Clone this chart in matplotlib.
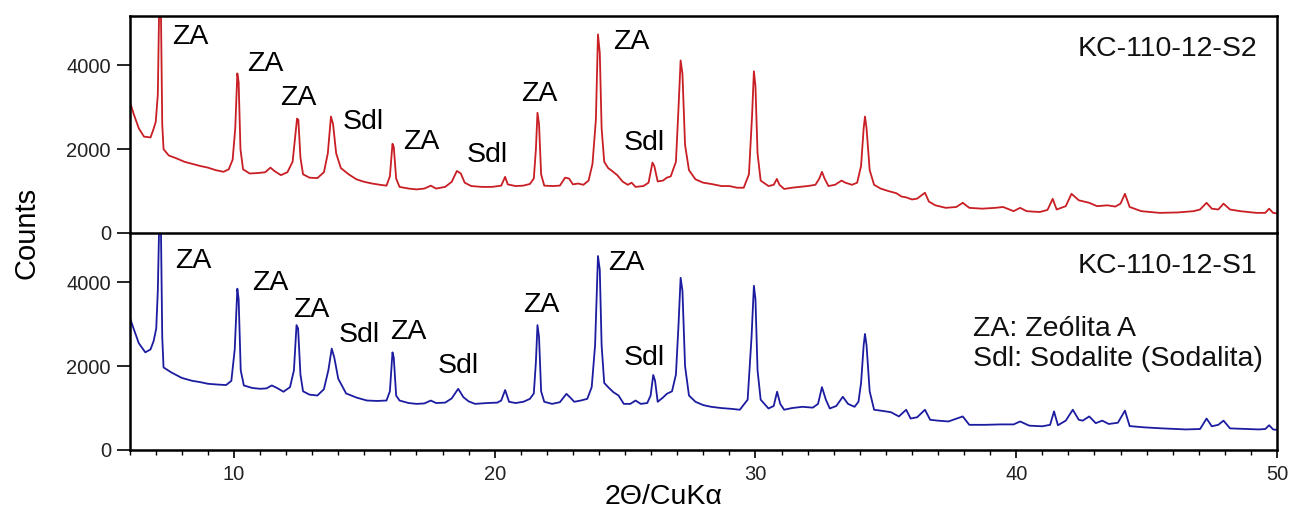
import matplotlib
matplotlib.use("Agg")
import matplotlib.pyplot as plt
from matplotlib.ticker import MultipleLocator

plt.rcParams['font.family'] = ['Liberation Sans', 'DejaVu Sans']

# Difractograma KC-110-12-S2 (painel superior)
two_theta_s2 = [
    6.00, 6.15, 6.35, 6.55, 6.80, 6.90, 7.00, 7.08, 7.13, 7.20, 7.25, 7.30, 7.50, 7.80,
    8.10, 8.40, 8.70, 9.00, 9.30, 9.60, 9.80, 9.95, 10.05, 10.13, 10.18, 10.25, 10.35,
    10.60, 10.90, 11.20, 11.40, 11.55, 11.80, 12.05, 12.25, 12.35, 12.42, 12.47, 12.55,
    12.65, 12.90, 13.20, 13.45, 13.60, 13.72, 13.80, 13.92, 14.10, 14.40, 14.70, 15.00,
    15.30, 15.60, 15.85, 15.98, 16.08, 16.13, 16.22, 16.35, 16.70, 17.00, 17.30, 17.55,
    17.75, 18.10, 18.35, 18.55, 18.70, 18.85, 19.10, 19.50, 19.90, 20.25, 20.40, 20.50,
    20.80, 21.10, 21.35, 21.50, 21.58, 21.64, 21.70, 21.78, 21.90, 22.20, 22.50, 22.70,
    22.85, 23.00, 23.20, 23.40, 23.60, 23.75, 23.88, 23.96, 24.03, 24.10, 24.20, 24.35,
    24.50, 24.70, 24.90, 25.10, 25.25, 25.40, 25.70, 25.90, 26.05, 26.12, 26.25, 26.45,
    26.60, 26.75, 26.95, 27.05, 27.13, 27.20, 27.30, 27.45, 27.70, 28.00, 28.30, 28.70,
    29.00, 29.30, 29.55, 29.75, 29.87, 29.94, 30.00, 30.08, 30.20, 30.50, 30.70, 30.82,
    30.92, 31.10, 31.40, 31.70, 32.00, 32.30, 32.45, 32.55, 32.65, 32.80, 33.05, 33.30,
    33.45, 33.70, 33.90, 34.05, 34.15, 34.20, 34.26, 34.38, 34.55, 34.80, 35.10, 35.40,
    35.60, 35.78, 36.00, 36.20, 36.50, 36.65, 36.90, 37.30, 37.70, 37.95, 38.20, 38.70,
    39.20, 39.50, 39.90, 40.15, 40.40, 40.90, 41.20, 41.40, 41.55, 41.90, 42.12, 42.40,
    42.80, 43.10, 43.50, 43.80, 44.00, 44.17, 44.35, 44.80, 45.50, 46.20, 46.80, 47.05,
    47.30, 47.50, 47.75, 47.95, 48.20, 48.60, 49.20, 49.55, 49.70, 49.85, 50.00,
]
counts_s2 = [
    3150, 2850, 2500, 2300, 2280, 2450, 2650, 3300, 5300, 5300, 2600, 2000, 1850, 1780,
    1700, 1650, 1600, 1560, 1500, 1460, 1520, 1750, 2500, 3810, 3600, 2000, 1520,
    1420, 1430, 1450, 1560, 1480, 1380, 1450, 1700, 2300, 2730, 2700, 1800,
    1400, 1320, 1310, 1450, 1900, 2780, 2600, 1900, 1550, 1400, 1280, 1220,
    1180, 1150, 1130, 1350, 2130, 2050, 1300, 1100, 1060, 1040, 1060, 1130,
    1060, 1100, 1220, 1480, 1420, 1200, 1120, 1100, 1100, 1130, 1340, 1160,
    1120, 1130, 1170, 1300, 2000, 2870, 2600, 1400, 1130, 1120, 1130, 1320,
    1300, 1160, 1180, 1150, 1250, 1650, 2700, 4740, 4300, 2500, 1700, 1550,
    1480, 1380, 1230, 1150, 1200, 1100, 1120, 1200, 1680, 1600, 1230, 1250,
    1320, 1350, 1700, 3000, 4120, 3800, 2100, 1500, 1280, 1200, 1170, 1120,
    1120, 1080, 1080, 1400, 2800, 3860, 3500, 1900, 1250, 1120, 1150, 1290,
    1150, 1050, 1080, 1100, 1120, 1150, 1300, 1460, 1300, 1120, 1150, 1250,
    1200, 1150, 1200, 1600, 2500, 2780, 2500, 1500, 1150, 1060, 1000, 950,
    870, 850, 800, 820, 960, 750, 660, 600, 620, 720, 600, 580,
    600, 620, 520, 600, 520, 500, 550, 815, 560, 640, 935, 780,
    720, 640, 660, 630, 700, 935, 620, 520, 480, 490, 520, 560,
    720, 580, 560, 700, 560, 520, 480, 480, 580, 480, 470,
]

# Difractograma KC-110-12-S1 (painel inferior)
two_theta_s1 = [
    6.00, 6.15, 6.35, 6.60, 6.80, 6.92, 7.02, 7.08, 7.13, 7.20, 7.25, 7.30, 7.60, 8.00,
    8.40, 8.70, 9.00, 9.40, 9.70, 9.90, 10.03, 10.13, 10.18, 10.26, 10.38, 10.70, 11.00,
    11.25, 11.45, 11.65, 11.90, 12.15, 12.30, 12.40, 12.46, 12.55, 12.65, 12.90, 13.20,
    13.45, 13.62, 13.75, 13.85, 14.00, 14.30, 14.70, 15.10, 15.50, 15.85, 15.98, 16.08,
    16.13, 16.22, 16.35, 16.70, 17.00, 17.30, 17.55, 17.75, 18.10, 18.35, 18.60, 18.80,
    19.00, 19.25, 19.70, 20.10, 20.25, 20.40, 20.55, 20.80, 21.10, 21.35, 21.50, 21.58,
    21.64, 21.70, 21.78, 21.90, 22.20, 22.50, 22.75, 22.90, 23.05, 23.30, 23.55, 23.72,
    23.85, 23.96, 24.03, 24.10, 24.20, 24.35, 24.55, 24.75, 24.95, 25.20, 25.40, 25.60,
    25.85, 25.98, 26.08, 26.15, 26.25, 26.45, 26.60, 26.80, 26.95, 27.05, 27.13, 27.20,
    27.30, 27.45, 27.70, 28.00, 28.30, 28.70, 29.10, 29.40, 29.70, 29.85, 29.94, 30.00,
    30.08, 30.20, 30.50, 30.70, 30.83, 30.95, 31.10, 31.40, 31.80, 32.20, 32.40, 32.55,
    32.70, 32.85, 33.10, 33.35, 33.55, 33.80, 33.95, 34.05, 34.15, 34.20, 34.26, 34.38,
    34.55, 34.90, 35.20, 35.50, 35.78, 35.95, 36.20, 36.50, 36.70, 37.00, 37.40, 37.95,
    38.20, 38.80, 39.40, 39.90, 40.15, 40.50, 41.00, 41.30, 41.45, 41.60, 41.90, 42.17,
    42.40, 42.55, 42.80, 43.05, 43.30, 43.55, 43.90, 44.17, 44.35, 44.90, 45.60, 46.50,
    47.05, 47.30, 47.50, 47.75, 47.95, 48.20, 48.80, 49.30, 49.55, 49.70, 49.85, 50.00,
]
counts_s1 = [
    3170, 2900, 2550, 2330, 2400, 2600, 2900, 3800, 5300, 5300, 2700, 1970, 1850, 1720,
    1650, 1620, 1580, 1560, 1550, 1650, 2400, 3850, 3600, 1900, 1540, 1480, 1460,
    1470, 1540, 1480, 1390, 1500, 1900, 2980, 2900, 1800, 1400, 1320, 1300,
    1450, 1900, 2420, 2200, 1700, 1350, 1250, 1180, 1170, 1180, 1400, 2330,
    2200, 1300, 1180, 1120, 1100, 1110, 1180, 1120, 1130, 1230, 1460, 1260,
    1160, 1100, 1120, 1130, 1180, 1430, 1150, 1120, 1150, 1220, 1350, 2100,
    2980, 2700, 1400, 1150, 1100, 1140, 1340, 1250, 1150, 1180, 1220, 1500,
    2500, 4630, 4300, 2500, 1600, 1500, 1380, 1300, 1100, 1100, 1180, 1100,
    1120, 1300, 1790, 1650, 1150, 1250, 1340, 1400, 1800, 3000, 4110, 3800,
    2000, 1300, 1150, 1070, 1030, 1000, 980, 960, 1200, 2700, 3920, 3600,
    1900, 1200, 990, 1050, 1390, 1100, 960, 1000, 1030, 1010, 1100, 1500,
    1200, 990, 1050, 1270, 1100, 1030, 1150, 1600, 2500, 2770, 2500, 1400,
    960, 930, 900, 800, 960, 750, 780, 960, 720, 700, 680, 800,
    600, 600, 610, 610, 680, 580, 565, 600, 920, 590, 700, 960,
    720, 700, 800, 640, 700, 620, 650, 940, 570, 540, 515, 490,
    500, 750, 565, 600, 700, 515, 500, 490, 500, 590, 490, 480,
]

# Identificação das fases: (texto, 2theta, contagens)
labels_s2 = [
    ("ZA", 7.62, 4675), ("ZA", 10.50, 4025), ("ZA", 11.76, 3230),
    ("Sdl", 14.18, 2650), ("ZA", 16.49, 2170), ("Sdl", 18.94, 1855),
    ("ZA", 21.00, 3325), ("ZA", 24.53, 4555), ("Sdl", 24.96, 2157),
]
labels_s1 = [
    ("ZA", 7.74, 4520), ("ZA", 10.69, 3990), ("ZA", 12.26, 3330),
    ("Sdl", 14.00, 2740), ("ZA", 15.99, 2810), ("Sdl", 17.82, 2000),
    ("ZA", 21.08, 3450), ("ZA", 24.34, 4460), ("Sdl", 24.96, 2190),
]

fig, (ax_top, ax_bot) = plt.subplots(2, 1, sharex=True, figsize=(12.9, 5.09), dpi=100)
fig.subplots_adjust(left=0.1005, right=0.9899, top=0.9686, bottom=0.116, hspace=0)

ax_top.plot(two_theta_s2, counts_s2, color='#c81e24', lw=1.3)
ax_bot.plot(two_theta_s1, counts_s1, color='#1c1ca0', lw=1.3)

for ax, labels, name in [(ax_top, labels_s2, "KC-110-12-S2"),
                         (ax_bot, labels_s1, "KC-110-12-S1")]:
    ax.set_xlim(6, 50)
    ax.set_ylim(0, 5180)
    ax.set_yticks([0, 2000, 4000])
    ax.tick_params(axis='y', direction='out', length=9.5, width=1.2, pad=4,
                   labelsize=14.5, labelcolor='#222222')
    for side in ['left', 'right', 'top', 'bottom']:
        ax.spines[side].set_linewidth(1.8)
    for txt, x, y in labels:
        ax.text(x, y, txt, fontsize=20.5, ha='left', va='center')
    ax.text(0.983, 0.85, name, transform=ax.transAxes, fontsize=20.5,
            ha='right', va='center', color='#111111')

# linha divisória entre os painéis
ax_top.spines['bottom'].set_visible(False)
ax_bot.spines['top'].set_linewidth(1.8)
ax_top.tick_params(axis='x', which='both', bottom=False, labelbottom=False)

ax_bot.xaxis.set_major_locator(MultipleLocator(10))
ax_bot.xaxis.set_minor_locator(MultipleLocator(1))
ax_bot.tick_params(axis='x', which='major', direction='out', length=6, width=1.2,
                   pad=5, labelsize=14.5, labelcolor='#222222')
ax_bot.tick_params(axis='x', which='minor', direction='out', length=3.5, width=1.0)

ax_bot.text(0.735, 0.49, "ZA: Zeólita A\nSdl: Sodalite (Sodalita)", transform=ax_bot.transAxes,
            fontsize=20.5, ha='left', va='center', linespacing=1.2, color='#111111')

fig.text(26 / 1290, 1 - 233 / 509, "Counts", rotation=90, fontsize=21,
         ha='center', va='center')
fig.text(664 / 1290, 1 - 497 / 509, "2Θ/CuKα", fontsize=20.5, ha='center', va='center')

fig.savefig("out.png", dpi=100)
